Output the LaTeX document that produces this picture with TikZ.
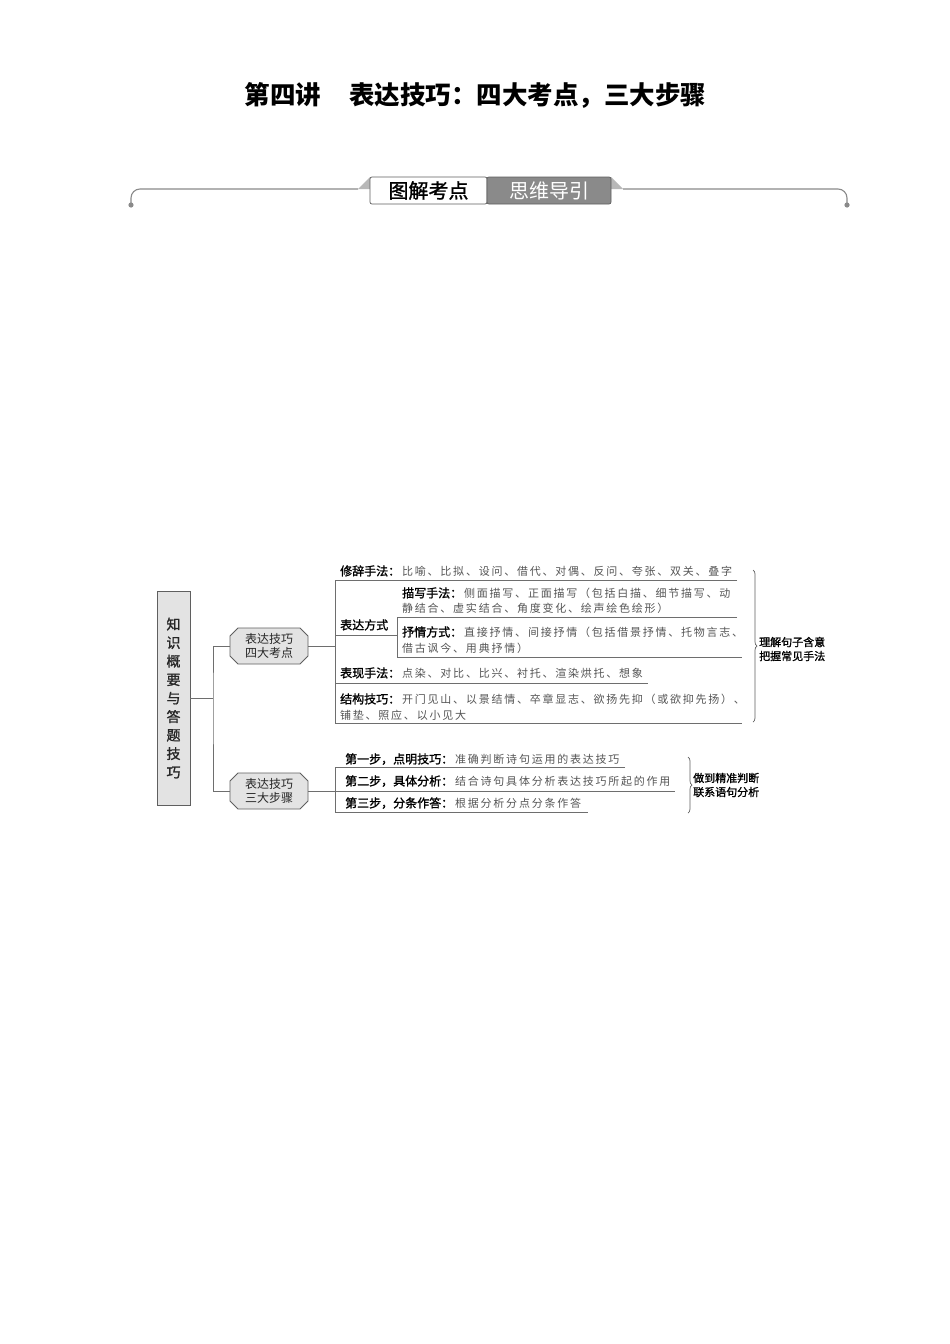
\documentclass[tikz,border=0pt]{standalone}
\usepackage{fontspec}
\setmainfont{Noto Sans CJK SC}
\newfontfamily\cjkc[LetterSpace=16]{Noto Sans CJK SC}
\newfontfamily\labf[FakeBold=1.3]{Noto Sans CJK SC}
\usetikzlibrary{decorations.pathreplacing,shapes.misc}
\definecolor{lc}{HTML}{6E6E6E}
\definecolor{cg}{HTML}{555555}
\definecolor{bf}{HTML}{E3E3E3}
\definecolor{bd}{HTML}{5F5F5F}
\definecolor{bgray}{HTML}{8A8A8A}
\definecolor{wedge}{HTML}{B8B8B8}
\newcommand{\ctx}[1]{{\cjkc\fontsize{11}{13}\selectfont\color{cg}\hspace{2pt}#1}}
\begin{document}
\begin{tikzpicture}[x=1pt,y=-1pt,
 ln/.style={draw=lc,line width=0.9pt},
 bl/.style={draw=bgray,line width=1.1pt},
 lab/.style={inner sep=0pt,anchor=base west,font=\labf\fontsize{12}{14}\selectfont},
 cont/.style={inner sep=0pt,anchor=base west,font=\cjkc\fontsize{11}{13}\selectfont,text=cg},
 hub/.style={chamfered rectangle,chamfered rectangle xsep=4pt,chamfered rectangle ysep=4pt,
   draw=bd,fill=bf,line width=0.8pt,minimum width=78pt,minimum height=36pt,inner sep=1pt,
   align=center,font=\fontsize{12}{14}\selectfont,text=black!85},
 brc/.style={draw=bd,line width=0.7pt,decorate,decoration={brace,amplitude=4pt}},
 note/.style={inner sep=0pt,anchor=west,align=left,font=\labf\fontsize{11}{14}\selectfont},
 bantext/.style={inner sep=0pt,font=\fontsize{20}{22}\selectfont},
]
\useasboundingbox[fill=white] (0,0) rectangle (950,1344);

% title
\node[font=\fontsize{25.5}{28}\selectfont\bfseries,anchor=base,inner sep=0pt] (title) at (475.5,104)
  {第四讲\hspace{1.1em}表达技巧：四大考点，三大步骤};

% banner
\coordinate (bL) at (358,189);
\coordinate (bR) at (623,189);
\coordinate (dL) at (131,205);
\coordinate (dR) at (847,205);
\draw[bl,rounded corners=9pt] (bL) -- (131,189) -- (dL);
\draw[bl,rounded corners=9pt] (bR) -- (847,189) -- (dR);
\fill[bgray] (dL) circle (2.6pt);
\fill[bgray] (dR) circle (2.6pt);
\fill[wedge] (bL) -- (370,177) -- (370,189) -- cycle;
\fill[wedge] (bR) -- (611,177) -- (611,189) -- cycle;
\draw[draw=bd,fill=white,line width=0.7pt,rounded corners=2pt] (487,177) -- (370,177) -- (370,204) -- (487,204) -- cycle;
\draw[draw=bd,fill=bgray,line width=0.7pt,rounded corners=2pt] (487,177) -- (611,177) -- (611,204) -- (487,204) -- cycle;
\node[bantext] (ban1) at (428.5,190.5) {\labf 图解考点};
\node[bantext,text=white] (ban2) at (549,190.5) {思维导引};

% left box
\node[draw=bd,fill=bf,line width=0.8pt,minimum width=33pt,minimum height=214pt,inner sep=0pt,
  align=center,font=\labf\fontsize{14}{18.5}\selectfont,text=black!85] (kb) at (173.5,698)
  {知\\识\\概\\要\\与\\答\\题\\技\\巧};

% hubs
\node[hub] (n1) at (269,646) {表达技巧\\四大考点};
\node[hub] (n2) at (269,791) {表达技巧\\三大步骤};

\coordinate (jA) at (213,698);
\draw[ln] (kb.east) -- (jA);
\draw[ln] (n1.west) -| (jA) |- (n2.west);

% upper group lines
\coordinate (u1) at (335,580);
\coordinate (u1e) at (737,580);
\coordinate (u5) at (335,723);
\coordinate (u5e) at (742,723);
\draw[ln] (u1e) -- (u1) -- (u5) -- (u5e);
\draw[ln] (n1.east) -- (n1.east -| u1);
\coordinate (fa) at (335,635);
\coordinate (fb) at (397,635);
\draw[ln] (fa) -- (fb);
\coordinate (i1) at (397,617);
\coordinate (i1e) at (737,617);
\coordinate (i2) at (397,657);
\coordinate (i2e) at (742,657);
\draw[ln] (i1e) -- (i1) -- (i2) -- (i2e);
\coordinate (h4) at (335,683);
\coordinate (h4e) at (648,683);
\draw[ln] (h4) -- (h4e);

% upper group texts
\node[lab] (r1) at (340,575.5) {修辞手法：\ctx{比喻、比拟、设问、借代、对偶、反问、夸张、双关、叠字}};
\node[lab] (r2a) at (402,597.5) {描写手法：\ctx{侧面描写、正面描写（包括白描、细节描写、动}};
\node[cont] (r2b) at (402,612.5) {静结合、虚实结合、角度变化、绘声绘色绘形）};
\node[lab] (fs) at (340,629.5) {表达方式};
\node[lab] (r3a) at (402,636.5) {抒情方式：\ctx{直接抒情、间接抒情（包括借景抒情、托物言志、}};
\node[cont] (r3b) at (402,652.5) {借古讽今、用典抒情）};
\node[lab] (r4) at (340,677.5) {表现手法：\ctx{点染、对比、比兴、衬托、渲染烘托、想象}};
\node[lab] (r5a) at (340,703.5) {结构技巧：\ctx{开门见山、以景结情、卒章显志、欲扬先抑（或欲抑先扬）、}};
\node[cont] (r5b) at (340,719.5) {铺垫、照应、以小见大};

% lower group lines
\coordinate (v1) at (335,767);
\coordinate (v1e) at (625,767);
\coordinate (v3) at (335,812);
\coordinate (v3e) at (588,812);
\coordinate (v2e) at (675,791);
\draw[ln] (v1e) -- (v1) -- (v3) -- (v3e);
\draw[ln] (n2.east) -- (v2e);

% lower group texts
\node[lab] (s1) at (345,763.5) {第一步，点明技巧：\ctx{准确判断诗句运用的表达技巧}};
\node[lab] (s2) at (345,785.5) {第二步，具体分析：\ctx{结合诗句具体分析表达技巧所起的作用}};
\node[lab] (s3) at (345,807.5) {第三步，分条作答：\ctx{根据分析分点分条作答}};

% braces
\coordinate (ba) at (753,570);
\coordinate (bb) at (753,722);
\draw[brc] (ba) -- (bb);
\node[note] (t1) at (759,649) {理解句子含意\\把握常见手法};
\coordinate (bc) at (688,757);
\coordinate (bd2) at (688,813);
\draw[brc] (bc) -- (bd2);
\node[note] (t2) at (693,785) {做到精准判断\\联系语句分析};
\end{tikzpicture}
\end{document}
